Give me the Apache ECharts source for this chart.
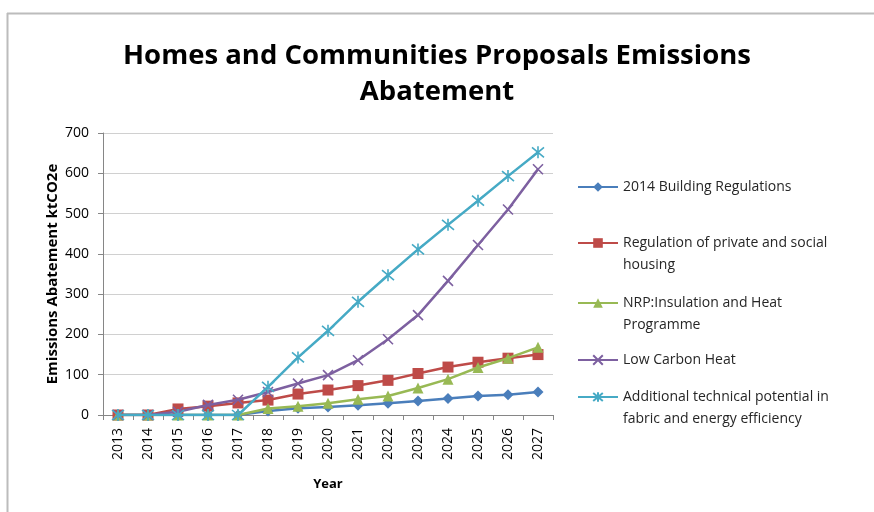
<!DOCTYPE html>
<html>
<head>
<meta charset="utf-8">
<script src="https://cdn.jsdelivr.net/npm/echarts@6/dist/echarts.min.js"></script>
<style>html,body{margin:0;padding:0;background:#fff}#c{width:874px;height:512px}</style>
</head>
<body>
<div id="c"></div>
<script>
const years = ['2013','2014','2015','2016','2017','2018','2019','2020','2021','2022','2023','2024','2025','2026','2027'];
const buildingRegs = [0, 0, 0, 0, 0, 10, 17, 20, 24, 29, 35, 41, 47, 50, 57];
const privateSocial = [0, 0, 15, 22, 30, 37, 52, 62, 73, 86, 103, 119, 131, 141, 150];
const nrpInsulation = [0, 0, 0, 0, 0, 16, 22, 29, 39, 47, 67, 89, 118, 141, 168];
const lowCarbonHeat = [0, 0, 8, 25, 38, 57, 78, 99, 136, 188, 248, 333, 422, 510, 610];
const additionalPotential = [0, 0, 0, 0, 0, 70, 143, 209, 281, 347, 411, 472, 532, 593, 652];
const yTicks = [0, 100, 200, 300, 400, 500, 600, 700];

const names = [
  '2014 Building Regulations',
  'Regulation of private and social housing',
  'NRP:Insulation and Heat Programme',
  'Low Carbon Heat',
  'Additional technical potential in fabric and energy efficiency'
];
const legendLines = {
  'Regulation of private and social housing': ['Regulation of private and social', 'housing'],
  'NRP:Insulation and Heat Programme': ['NRP:Insulation and Heat', 'Programme'],
  'Additional technical potential in fabric and energy efficiency': ['Additional technical potential in', 'fabric and energy efficiency']
};
const colors = ['#4a7ebb', '#be4b48', '#98b954', '#7d60a0', '#46aac5'];
const xPath = 'path://M0,0L10,10M10,0L0,10';
const starPath = 'path://M0,0L10,10M10,0L0,10M5,-1L5,11';
const symbols = ['diamond', 'rect', 'triangle', xPath, starPath];
const symbolSizes = [11, 11, 11, 10, 12];
const dataSets = [buildingRegs, privateSocial, nrpInsulation, lowCarbonHeat, additionalPotential];
const legendFirstLineY = [187, 243, 303, 360, 397];
const LH = 22;

const series = names.map((n, i) => ({
  name: n,
  type: 'line',
  data: dataSets[i],
  symbol: symbols[i],
  symbolSize: symbolSizes[i],
  lineStyle: { color: colors[i], width: 2.5 },
  itemStyle: { color: colors[i], borderColor: colors[i], borderWidth: i >= 3 ? 1.6 : 0 },
  emphasis: { disabled: true },
  z: 2 + i
}));

const legends = names.map((n, i) => {
  const multi = !!legendLines[n];
  return {
    data: [n],
    orient: 'vertical',
    left: 577,
    top: multi ? legendFirstLineY[i] - LH * 1.5 : legendFirstLineY[i] - LH / 2,
    padding: 0,
    itemWidth: 40,
    itemHeight: 12,
    selectedMode: false,
    textStyle: { fontFamily: 'Open Sans', fontSize: 14, color: '#262626', lineHeight: LH },
    formatter: function (name) {
      const l = legendLines[name];
      return l ? '\n' + l[0] + '\n' + l[1] : name;
    }
  };
});

const chart = echarts.init(document.getElementById('c'), null, { renderer: 'canvas' });
chart.setOption({
  animation: false,
  backgroundColor: '#fff',
  title: {
    text: 'Homes and Communities Proposals Emissions\nAbatement',
    left: 'center',
    top: 38,
    padding: [0, 0, 0, 22],
    textStyle: { fontFamily: 'Open Sans', fontWeight: 'bold', fontSize: 27.5, lineHeight: 36, color: '#000' }
  },
  legend: legends,
  grid: { left: 103, right: 321, top: 133, bottom: 97 },
  xAxis: {
    type: 'category',
    data: years,
    boundaryGap: true,
    name: 'Year',
    nameLocation: 'middle',
    nameGap: 63,
    nameTextStyle: { fontFamily: 'Open Sans', fontWeight: 'bold', fontSize: 13, color: '#000' },
    axisLine: { lineStyle: { color: '#868686', width: 1 } },
    axisTick: { show: true, length: 5, lineStyle: { color: '#868686' } },
    axisLabel: { rotate: 90, margin: 13, fontFamily: 'Open Sans', fontSize: 14, color: '#000' }
  },
  yAxis: {
    type: 'value',
    min: 0,
    max: 700,
    interval: 100,
    name: 'Emissions Abatement ktCO2e',
    nameLocation: 'middle',
    nameGap: 43,
    nameMoveOverlap: false,
    nameRotate: 90,
    nameTextStyle: { fontFamily: 'Open Sans', fontWeight: 'bold', fontSize: 15, color: '#000' },
    axisLine: { show: true, lineStyle: { color: '#868686', width: 1 } },
    axisTick: { show: true, length: 5, lineStyle: { color: '#868686' } },
    axisLabel: {
      margin: 14, fontFamily: 'Open Sans', fontSize: 14, color: '#000',
      formatter: v => yTicks.includes(v) ? String(v) : ''
    },
    splitLine: { lineStyle: { color: '#d0d0d0', width: 1 } }
  },
  graphic: [
    { type: 'line', shape: { x1: 7, y1: 13.5, x2: 874, y2: 13.5 }, style: { stroke: '#bcbcbc', lineWidth: 2 } },
    { type: 'line', shape: { x1: 7.5, y1: 13, x2: 7.5, y2: 512 }, style: { stroke: '#bcbcbc', lineWidth: 2 } }
  ],
  series: series
});
</script>
</body>
</html>
